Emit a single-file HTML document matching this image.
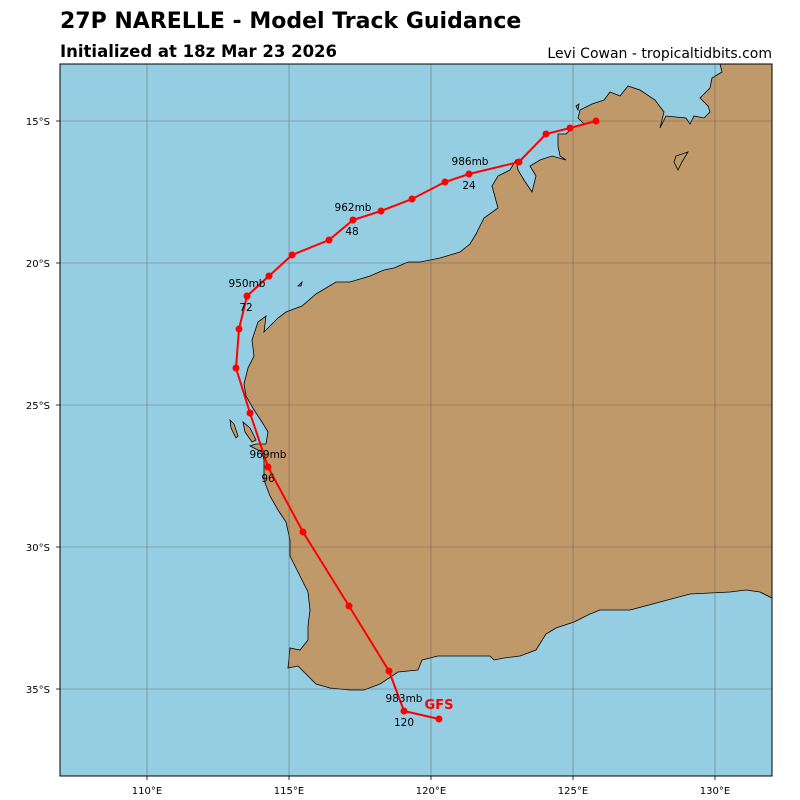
<!DOCTYPE html>
<html><head><meta charset="utf-8"><style>
body{margin:0;background:#fff;}
svg{display:block;font-family:"DejaVu Sans","Liberation Sans",sans-serif;}
</style></head><body>
<svg width="800" height="800" viewBox="0 0 800 800" xmlns="http://www.w3.org/2000/svg">
<rect width="800" height="800" fill="#fff"/>
<text x="60" y="28" font-size="22" font-weight="bold">27P NARELLE - Model Track Guidance</text>
<text x="60" y="57" font-size="16.5" font-weight="bold">Initialized at 18z Mar 23 2026</text>
<text x="772" y="58" font-size="14" text-anchor="end">Levi Cowan - tropicaltidbits.com</text>
<clipPath id="c"><rect x="60" y="64" width="712" height="712"/></clipPath>
<g clip-path="url(#c)">
<rect x="60" y="64" width="712" height="712" fill="#95cde2"/>
<path fill="#c0996b" stroke="#000" stroke-width="0.8" d="M720,64 L722,72 L712,78 L710,88 L700,98 L708,106 L710,112 L704,118 L694,116 L690,124 L686,118 L666,116 L660,128 L664,112 L655,100 L640,90 L628,86 L620,96 L610,92 L604,100 L592,104 L580,110 L578,118 L584,124 L572,128 L566,134 L558,134 L558,146 L560,156 L566,160 L552,156 L540,160 L530,166 L536,176 L532,192 L524,180 L518,170 L516,160 L510,170 L498,176 L492,186 L498,208 L484,218 L476,234 L470,244 L460,252 L440,258 L420,262 L408,262 L394,268 L384,270 L370,276 L350,282 L336,282 L316,294 L302,306 L286,312 L278,318 L270,326 L264,332 L266,316 L258,322 L252,340 L254,356 L248,368 L244,384 L246,396 L254,410 L262,422 L268,432 L266,444 L256,444 L250,446 L262,452 L264,460 L264,480 L270,496 L278,510 L286,522 L290,540 L290,556 L298,572 L308,592 L310,610 L308,626 L308,640 L300,650 L290,648 L288,668 L298,666 L316,684 L330,688 L350,690 L364,690 L380,684 L398,672 L418,670 L422,660 L438,656 L470,656 L490,656 L494,660 L504,658 L520,656 L536,650 L546,634 L556,628 L574,622 L590,614 L600,610 L630,610 L660,602 L690,594 L730,592 L746,590 L760,592 L772,598 L772,64 Z"/>
<path fill="#c0996b" stroke="#000" stroke-width="0.8" d="M230,420 L234,424 L238,436 L236,438 L231,428 Z M243,422 L250,428 L256,440 L252,442 L245,432 Z M298,286 L302,282 L301,286 Z M676,156 L688,152 L682,162 L678,170 L674,162 Z M576,106 L579,104 L578,110 Z"/>
<g stroke="#555" stroke-width="0.6" opacity="0.7">
<line x1="147" y1="64" x2="147" y2="776"/><line x1="289" y1="64" x2="289" y2="776"/><line x1="431" y1="64" x2="431" y2="776"/><line x1="573" y1="64" x2="573" y2="776"/><line x1="715" y1="64" x2="715" y2="776"/>
<line x1="60" y1="121" x2="772" y2="121"/><line x1="60" y1="263" x2="772" y2="263"/><line x1="60" y1="405" x2="772" y2="405"/><line x1="60" y1="547" x2="772" y2="547"/><line x1="60" y1="689" x2="772" y2="689"/>
</g>
<polyline fill="none" stroke="#f00" stroke-width="2" points="596,121 570,128 546,134 519,162 469,174 445,182 412,199 381,211 353,220 329,240 292,255 269,276 247,296 239,329 236,368 250,413 268,467 303,532 349,606 389,671 404,711 439,719"/>
<g fill="#f00">
<circle cx="596" cy="121" r="3.5"/><circle cx="570" cy="128" r="3.5"/><circle cx="546" cy="134" r="3.5"/><circle cx="519" cy="162" r="3.5"/><circle cx="469" cy="174" r="3.5"/><circle cx="445" cy="182" r="3.5"/><circle cx="412" cy="199" r="3.5"/><circle cx="381" cy="211" r="3.5"/><circle cx="353" cy="220" r="3.5"/><circle cx="329" cy="240" r="3.5"/><circle cx="292" cy="255" r="3.5"/><circle cx="269" cy="276" r="3.5"/><circle cx="247" cy="296" r="3.5"/><circle cx="239" cy="329" r="3.5"/><circle cx="236" cy="368" r="3.5"/><circle cx="250" cy="413" r="3.5"/><circle cx="268" cy="467" r="3.5"/><circle cx="303" cy="532" r="3.5"/><circle cx="349" cy="606" r="3.5"/><circle cx="389" cy="671" r="3.5"/><circle cx="404" cy="711" r="3.5"/><circle cx="439" cy="719" r="3.5"/>
</g>
<g font-size="10.5" text-anchor="middle" fill="#000">
<text x="470" y="165">986mb</text><text x="469" y="189">24</text>
<text x="353" y="211">962mb</text><text x="352" y="235">48</text>
<text x="247" y="287">950mb</text><text x="246" y="311">72</text>
<text x="268" y="458">969mb</text><text x="268" y="482">96</text>
<text x="404" y="702">983mb</text><text x="404" y="726">120</text>
</g>
<text x="439" y="709" font-size="13" font-weight="bold" fill="#f00" text-anchor="middle">GFS</text>
</g>
<rect x="60" y="64" width="712" height="712" fill="none" stroke="#000" stroke-width="1"/>
<g font-size="10" text-anchor="middle">
<text x="147" y="794">110°E</text><text x="289" y="794">115°E</text><text x="431" y="794">120°E</text><text x="573" y="794">125°E</text><text x="715" y="794">130°E</text>
</g>
<g font-size="10" text-anchor="end">
<text x="50" y="125">15°S</text><text x="50" y="267">20°S</text><text x="50" y="409">25°S</text><text x="50" y="551">30°S</text><text x="50" y="693">35°S</text>
</g>
<g stroke="#000" stroke-width="0.8">
<line x1="147" y1="776" x2="147" y2="780"/><line x1="289" y1="776" x2="289" y2="780"/><line x1="431" y1="776" x2="431" y2="780"/><line x1="573" y1="776" x2="573" y2="780"/><line x1="715" y1="776" x2="715" y2="780"/>
<line x1="56" y1="121" x2="60" y2="121"/><line x1="56" y1="263" x2="60" y2="263"/><line x1="56" y1="405" x2="60" y2="405"/><line x1="56" y1="547" x2="60" y2="547"/><line x1="56" y1="689" x2="60" y2="689"/>
</g>
</svg>
</body></html>
